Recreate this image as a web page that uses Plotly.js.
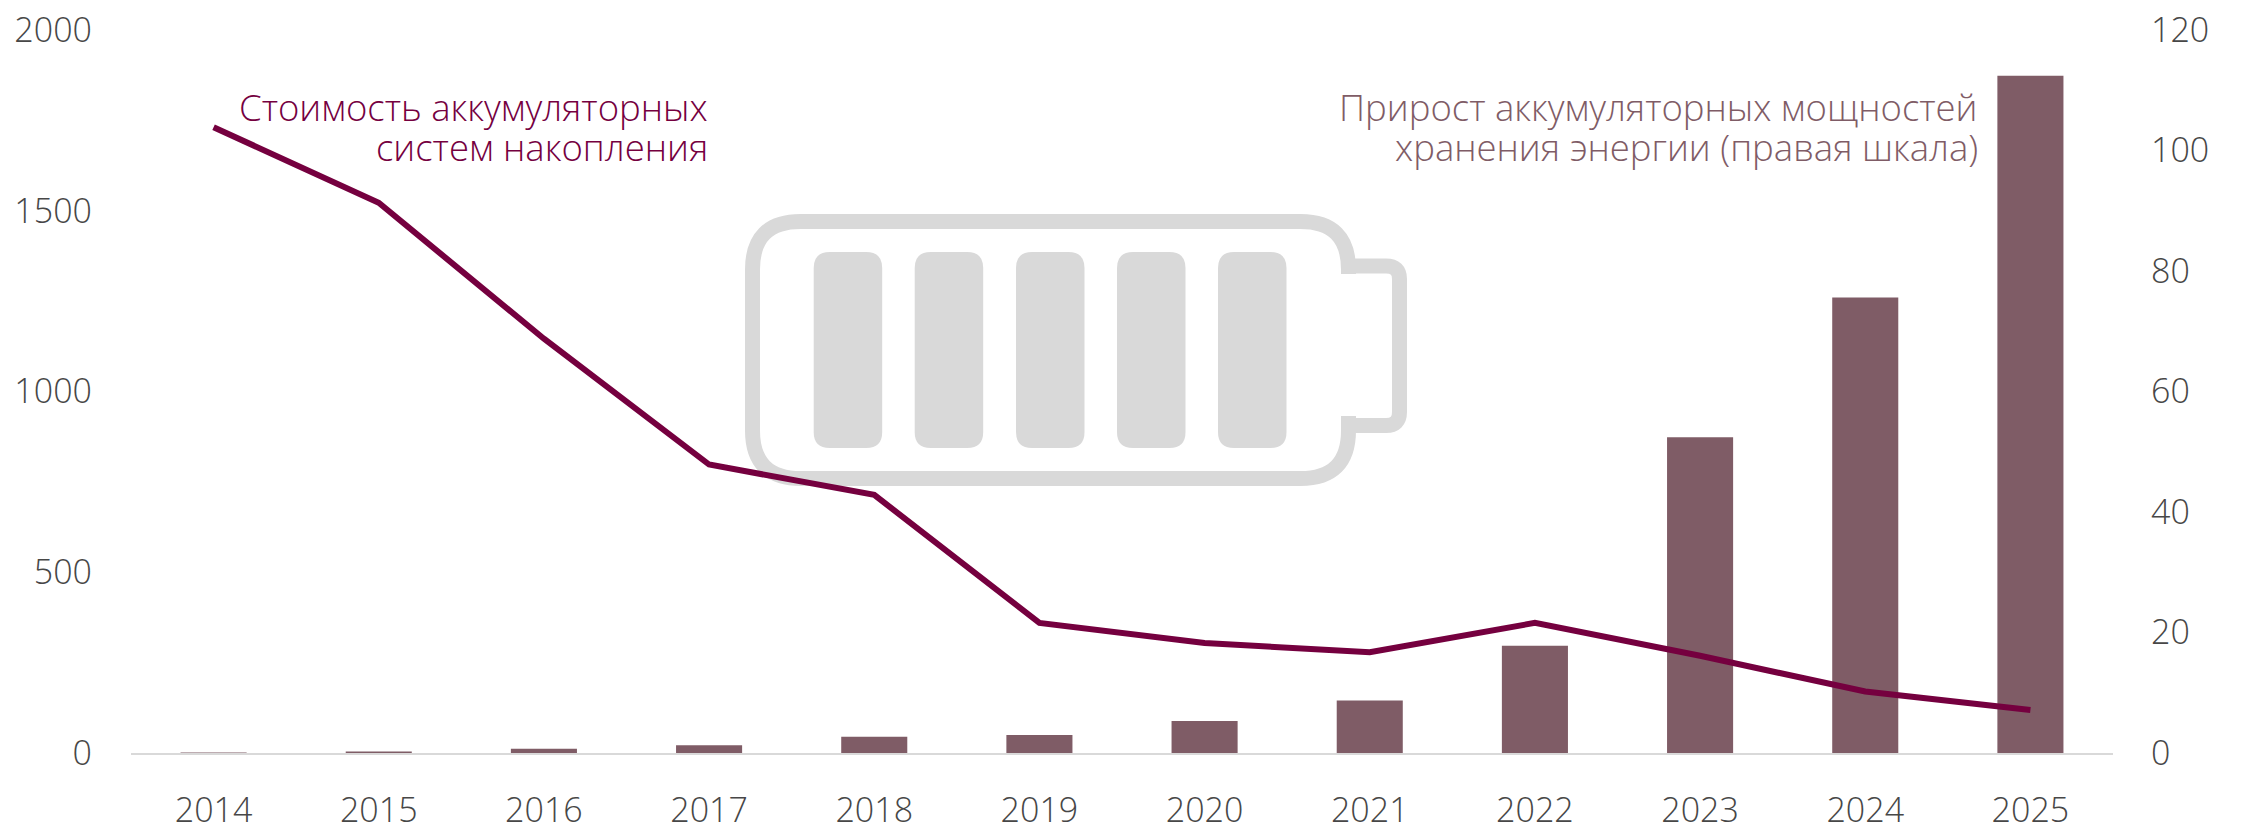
<!DOCTYPE html>
<html><head><meta charset="utf-8">
<script src="https://cdn.plot.ly/plotly-3.0.1.min.js"></script>
<style>html,body{margin:0;padding:0;background:#fff}</style></head>
<body><div id="chart" style="width:2241px;height:824px"></div>
<script>
const years = ['2014','2015','2016','2017','2018','2019','2020','2021','2022','2023','2024','2025'];
const costValues = [1731,1522,1146,798,714,360,304,279,360,269,170,119];
const capacityValues = [0.1,0.25,0.7,1.3,2.7,3.0,5.3,8.7,17.8,52.4,75.6,112.4];
const leftTicks = [0,500,1000,1500,2000];
const rightTicks = [0,20,40,60,80,100,120];
const costLabelLines = ['Стоимость аккумуляторных','систем накопления'];
const capacityLabelLines = ['Прирост аккумуляторных мощностей','хранения энергии (правая шкала)'];

const W=2241,H=824,ml=131,mr=128,mt=30,mb=71;
const px=x=>((x-ml)/(W-ml-mr)).toFixed(5), py=y=>(1-(y-mt)/(H-mt-mb)).toFixed(5);
function rr(x0,y0,x1,y1,r){
  return `M${px(x0+r)},${py(y0)}L${px(x1-r)},${py(y0)}Q${px(x1)},${py(y0)} ${px(x1)},${py(y0+r)}L${px(x1)},${py(y1-r)}Q${px(x1)},${py(y1)} ${px(x1-r)},${py(y1)}L${px(x0+r)},${py(y1)}Q${px(x0)},${py(y1)} ${px(x0)},${py(y1-r)}L${px(x0)},${py(y0+r)}Q${px(x0)},${py(y0)} ${px(x0+r)},${py(y0)}Z`;
}
const grey='#d9d9d9', none='rgba(0,0,0,0)';
const shapes=[];
const base={type:'path',xref:'paper',yref:'paper',layer:'below'};
const bx0=752.5,bx1=1348.5,by0=221.5,by1=478.5,br=48;
shapes.push({...base,line:{color:grey,width:15},fillcolor:none,
 path:`M${px(bx1)},${py(274)}L${px(bx1)},${py(by0+br)}Q${px(bx1)},${py(by0)} ${px(bx1-br)},${py(by0)}L${px(bx0+br)},${py(by0)}Q${px(bx0)},${py(by0)} ${px(bx0)},${py(by0+br)}L${px(bx0)},${py(by1-br)}Q${px(bx0)},${py(by1)} ${px(bx0+br)},${py(by1)}L${px(bx1-br)},${py(by1)}Q${px(bx1)},${py(by1)} ${px(bx1)},${py(by1-br)}L${px(bx1)},${py(416)}`});
shapes.push({...base,line:{color:grey,width:15},fillcolor:none,
 path:`M${px(1349)},${py(266)}L${px(1386)},${py(266)}Q${px(1399.5)},${py(266)} ${px(1399.5)},${py(279)}L${px(1399.5)},${py(412)}Q${px(1399.5)},${py(425.5)} ${px(1386)},${py(425.5)}L${px(1349)},${py(425.5)}`});
[813.7,914.7,1016,1117,1218].forEach(x=>shapes.push({...base,path:rr(x,252,x+68.5,448,16),line:{width:0},fillcolor:grey}));

const fam='"Open Sans", sans-serif';
const tickFont={family:fam,size:34,color:'#474747',weight:300};
const labelFont=c=>({family:fam,size:36.5,color:c,weight:300});
const note=(text,xp,yp,c)=>({xref:'paper',yref:'paper',x:px(xp),y:py(yp),xanchor:'right',yanchor:'middle',align:'right',showarrow:false,text,font:labelFont(c)});
Plotly.newPlot('chart',[
 {type:'bar',x:years,y:capacityValues,marker:{color:'#7f5c66'},width:0.4,hoverinfo:'skip'},
 {type:'scatter',mode:'lines',x:years,y:costValues,yaxis:'y2',line:{color:'#75003f',width:6},hoverinfo:'skip'}
],{
 width:W,height:H,showlegend:false,paper_bgcolor:'#fff',plot_bgcolor:'rgba(0,0,0,0)',
 margin:{l:ml,r:mr,t:mt,b:mb,pad:0},
 xaxis:{type:'category',showgrid:false,zeroline:false,showline:true,linecolor:grey,linewidth:2,ticks:'',tickfont:tickFont,ticklabelstandoff:26,automargin:false},
 yaxis:{range:[0,120],tickvals:rightTicks,side:'right',showgrid:false,zeroline:false,showline:false,ticks:'',tickfont:tickFont,ticklabelstandoff:37,automargin:false},
 yaxis2:{range:[0,2000],tickvals:leftTicks,overlaying:'y',side:'left',showgrid:false,zeroline:false,showline:false,ticks:'',tickfont:tickFont,ticklabelstandoff:38,automargin:false},
 shapes,
 annotations:[
  note(costLabelLines[0],710,107,'#75003f'),
  note(costLabelLines[1],710,147,'#75003f'),
  note(capacityLabelLines[0],1980,107,'#7f5c66'),
  note(capacityLabelLines[1],1980,147,'#7f5c66')
 ]
},{displayModeBar:false,staticPlot:true});
</script></body></html>
